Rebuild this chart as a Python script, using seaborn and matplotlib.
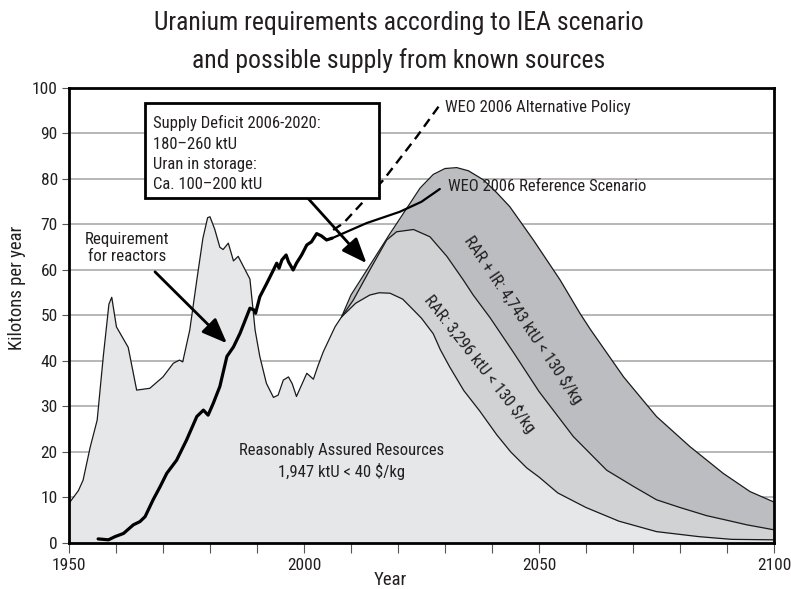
import numpy as np
import pandas as pd
import matplotlib
matplotlib.use('Agg')
import matplotlib.pyplot as plt
from matplotlib.patches import Rectangle
from matplotlib.ticker import MultipleLocator
from matplotlib import font_manager
import seaborn as sns

# historic production, then RAR < 40 $/kg outlook (kt per year)
prod_years = [1950, 1952, 1953, 1954.5, 1956, 1957.3, 1958.5, 1959.1, 1960.1, 1962.6,
              1964.4, 1967.2, 1970, 1972.2, 1973.5, 1974.2, 1975.7, 1977.2, 1978.5, 1979.5,
              1980, 1981, 1982.1, 1982.8, 1983.9, 1985, 1986, 1987, 1988.5, 1989.6,
              1990.6, 1992, 1993.5, 1994.5, 1995.6, 1996.7, 1997.5, 1998.4, 2000.6, 2002,
              2003, 2004.1, 2006.6, 2008, 2011, 2014, 2016, 2018.3, 2021, 2023.3,
              2025, 2027.5, 2029, 2031, 2034, 2037.4, 2041, 2044, 2047.4, 2050,
              2054, 2060, 2067, 2075, 2084, 2091, 2100]
prod_kt = [8.7, 11.5, 13.8, 21, 27, 41, 52.5, 54, 47.5, 43,
           33.6, 34, 36.5, 39.5, 40.2, 39.8, 46.8, 57.8, 67, 71.5,
           71.7, 69, 65, 64.5, 65.9, 62, 63, 61, 58, 46.8,
           41, 35.1, 32, 32.5, 35.8, 36.5, 35, 32.2, 37.3, 36,
           39, 42, 47.5, 49.7, 52.7, 54.5, 55, 54.9, 53.6, 51.2,
           49.4, 46, 42.5, 38.7, 33.5, 29, 23.8, 20, 16.5, 14.5,
           11, 7.8, 4.8, 2.5, 1.4, 0.8, 0.7]

# RAR < 130 $/kg
rar_years = [2008, 2010.5, 2014, 2017.6, 2019.7, 2023.3, 2026.8, 2030.4, 2033.9, 2036,
             2039.6, 2044.5, 2050, 2057.3, 2064.4, 2070, 2075, 2080, 2085.7, 2090,
             2094.2, 2100]
rar_kt = [49.7, 53.4, 60, 66.6, 68.4, 68.9, 67.3, 63, 57.8, 54.5,
          49.5, 42, 33.3, 23.4, 16, 12.5, 9.5, 7.8, 6, 5,
          4, 2.9]

# RAR + IR < 130 $/kg
rarir_years = [2008, 2010, 2014, 2018.3, 2022.6, 2024.7, 2027.5, 2030, 2032.5, 2035,
               2038.2, 2041, 2043.8, 2048.8, 2054.5, 2058.7, 2060.9, 2068, 2075, 2082.1,
               2089.2, 2094.9, 2100]
rarir_kt = [49.7, 54.5, 61, 68, 74.7, 78, 81, 82.3, 82.5, 81.8,
            79.8, 77, 73.9, 66.6, 57.8, 50.5, 47, 36.5, 27.8, 21.2,
            15.3, 11.3, 9]

# reactor requirement (history)
req_years = [1956.2, 1958.4, 1959.8, 1961.6, 1963.7, 1965.1, 1966.2, 1967.9, 1969.4, 1970.8,
             1972.9, 1975, 1977.2, 1978.6, 1979.6, 1980.7, 1982.1, 1983.6, 1985, 1986.4,
             1988.5, 1989.4, 1989.7, 1990.6, 1992.1, 1993.5, 1994.2, 1994.7, 1995.3, 1996.2,
             1996.7, 1997.7, 1998.4, 1999.5, 2000.6, 2001.6, 2002.7, 2003.7, 2004.8, 2006]
req_kt = [0.9, 0.7, 1.4, 2.1, 4, 4.7, 5.8, 9.5, 12.4, 15.3,
          18.2, 22.6, 27.8, 29.2, 28.1, 30.7, 34.4, 41, 43.1, 46.1,
          51.6, 51.2, 50.5, 54.1, 57.1, 60, 61.5, 60.4, 62.2, 63.3,
          61.8, 60, 61.5, 63.3, 65.5, 66.2, 68, 67.5, 66.6, 67]

# WEO 2006 scenarios
ref_years = [2006, 2013.3, 2020.4, 2025, 2028.9]
ref_kt = [67, 70.3, 72.8, 75, 77.8]
alt_years = [2006.2, 2008.4, 2016.9, 2024, 2028.9]
alt_kt = [68.8, 70.3, 79.8, 89.3, 96.3]

sns.set_theme(style='white')
installed = {f.name for f in font_manager.fontManager.ttflist}
narrow = [n for n in ['Roboto Condensed', 'Liberation Sans Narrow', 'Open Sans Condensed',
                      'DejaVu Sans Condensed', 'Roboto'] if n in installed]
plt.rcParams['font.family'] = narrow[:1] + ['DejaVu Sans']

fig = plt.figure(figsize=(7.91, 5.89), dpi=100)
ax = fig.add_axes([0.0872, 0.0781, 0.8913, 0.7725])

light = '#e6e7e9'
mid = '#d1d2d4'
dark = '#bcbdc0'
ink = '#231f20'

ax.fill_between(rarir_years, 0, rarir_kt, color=dark, lw=0, zorder=1)
ax.fill_between(rar_years, 0, rar_kt, color=mid, lw=0, zorder=1.1)
ax.fill_between(prod_years, 0, prod_kt, color=light, lw=0, zorder=1.2)

edges = [(prod_years, prod_kt), (rar_years, rar_kt), (rarir_years, rarir_kt)]
for xs, ys in edges:
    sns.lineplot(x=xs, y=ys, ax=ax, color='#1a1a1a', lw=0.9, estimator=None, zorder=2)

sns.lineplot(x=req_years, y=req_kt, ax=ax, color='black', lw=2.3, estimator=None, zorder=3)
sns.lineplot(x=ref_years, y=ref_kt, ax=ax, color='black', lw=1.6, estimator=None, zorder=3)
sns.lineplot(x=alt_years, y=alt_kt, ax=ax, color='black', lw=1.7, estimator=None,
             linestyle=(0, (4, 2.5)), zorder=3)

ax.set_xlim(1950, 2100)
ax.set_ylim(0, 100)
ax.set_xticks([1950, 2000, 2050, 2100])
ax.xaxis.set_minor_locator(MultipleLocator(10))
ax.set_yticks(range(0, 101, 10))
ax.yaxis.grid(True, color='#a3a3a3', lw=1.1)
ax.xaxis.grid(False)
ax.set_axisbelow(True)
ax.tick_params(axis='x', which='both', direction='out', length=7.5, width=0.8,
               color='#555555', labelsize=12.5, labelcolor=ink, pad=3, bottom=True)
ax.tick_params(axis='y', direction='out', length=5, width=0.8, color='#555555',
               labelsize=12.5, labelcolor=ink, pad=3, left=True)
for sp in ax.spines.values():
    sp.set_visible(True)
    sp.set_color('black')
    sp.set_linewidth(2)
    sp.set_zorder(5)
ax.set_xlabel('')
ax.set_ylabel('')

fig.text(0.504, 0.961, 'Uranium requirements according to IEA scenario',
         ha='center', va='center', fontsize=18.5, color=ink)
fig.text(0.504, 0.898, 'and possible supply from known sources',
         ha='center', va='center', fontsize=18.5, color=ink)
fig.text(0.021, 0.512, 'Kilotons per year', rotation=90, ha='center', va='center',
         fontsize=13.5, color=ink)
fig.text(0.493, 0.016, 'Year', ha='center', va='center', fontsize=13.5, color=ink)

# annotation box
ax.add_patch(Rectangle((1966.1, 75.8), 49.8, 20.8, fc='white', ec='black', lw=2, zorder=6))
ax.text(1967.9, 85.6, 'Supply Deficit 2006-2020:\n180\u2013260 ktU\nUran in storage:\nCa. 100\u2013200 ktU',
        ha='left', va='center', fontsize=12, linespacing=1.42, color=ink, zorder=7)

arrow = dict(arrowstyle='-|>,head_length=0.9,head_width=0.36', color='black', lw=2,
             mutation_scale=17, shrinkA=0, shrinkB=0)
ax.annotate('', xy=(2013.3, 61.5), xytext=(2000.2, 76.5), arrowprops=arrow, zorder=4)
ax.annotate('', xy=(1983.6, 43.9), xytext=(1968.3, 59.6), arrowprops=arrow, zorder=4)

ax.text(1962.4, 64.8, 'Requirement\nfor reactors', ha='center', va='center',
        fontsize=12.2, linespacing=1.2, color=ink)
ax.text(2030.6, 78.4, 'WEO 2006 Reference Scenario', ha='left', va='center',
        fontsize=12, color=ink, zorder=4)
ax.text(2030.0, 95.8, 'WEO 2006 Alternative Policy', ha='left', va='center',
        fontsize=12, color=ink, zorder=4)
ax.text(2007.9, 17.9, 'Reasonably Assured Resources\n1,947 ktU < 40 $/kg', ha='center',
        va='center', fontsize=12, linespacing=1.3, color=ink, zorder=4)
ax.text(2046.8, 49.0, 'RAR + IR: 4,743 ktU < 130 $/kg', ha='center', va='center',
        rotation=-56, rotation_mode='anchor', fontsize=12, color=ink, zorder=4)
ax.text(2037.4, 39.5, 'RAR: 3,296 ktU < 130 $/kg', ha='center', va='center',
        rotation=-52, rotation_mode='anchor', fontsize=12, color=ink, zorder=4)

fig.savefig('out.png', dpi=100)
